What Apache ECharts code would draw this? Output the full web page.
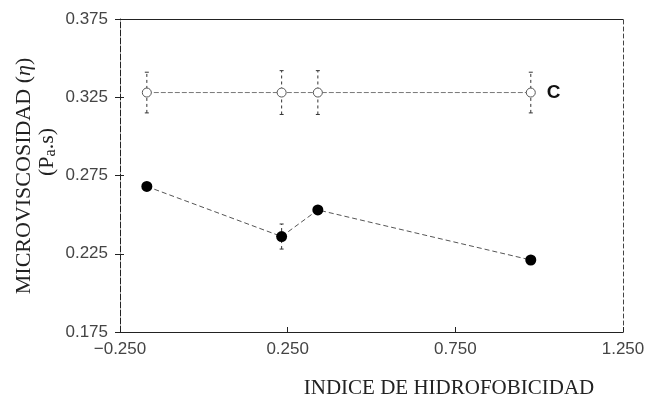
<!DOCTYPE html>
<html>
<head>
<meta charset="utf-8">
<script src="https://cdn.jsdelivr.net/npm/echarts@6/dist/echarts.min.js"></script>
<style>html,body{margin:0;padding:0;background:#fff;}#c{width:651px;height:400px;}</style>
</head>
<body>
<div id="c"></div>
<script>
var xVals = [-0.17, 0.232, 0.34, 0.975];
var cVals = [0.328, 0.328, 0.328, 0.328];
var cErr = [0.013, 0.014, 0.014, 0.013];
var fVals = [0.268, 0.236, 0.253, 0.221];
var fErr = [0, 0.008, 0, 0];
var xTicks = [-0.25, 0.25, 0.75, 1.25];
var yTicks = [0.175, 0.225, 0.275, 0.325, 0.375];
var seriesLabel = 'C';

function pairs(xs, ys) { return xs.map(function (x, i) { return [x, ys[i]]; }); }
function errData(xs, ys, es) {
  var out = [];
  xs.forEach(function (x, i) { if (es[i] > 0) out.push([x, ys[i] - es[i], ys[i] + es[i]]); });
  return out;
}
function errRender(params, api) {
  var x = api.value(0), lo = api.value(1), hi = api.value(2);
  var pLo = api.coord([x, lo]), pHi = api.coord([x, hi]);
  var st = { stroke: '#333', lineWidth: 1, lineDash: [3, 3] };
  return { type: 'group', children: [
    { type: 'line', shape: { x1: pLo[0], y1: pLo[1], x2: pHi[0], y2: pHi[1] }, style: st },
    { type: 'line', shape: { x1: pLo[0] - 2, y1: pLo[1], x2: pLo[0] + 2, y2: pLo[1] }, style: { stroke: '#333', lineWidth: 1 } },
    { type: 'line', shape: { x1: pHi[0] - 2, y1: pHi[1], x2: pHi[0] + 2, y2: pHi[1] }, style: { stroke: '#333', lineWidth: 1 } }
  ]};
}

var chart = echarts.init(document.getElementById('c'));
var labelFont = { fontFamily: 'Liberation Sans', fontSize: 17, color: '#444' };
chart.setOption({
  animation: false,
  grid: { left: 120, right: 28, top: 19, bottom: 68 },
  xAxis: [
    { type: 'value', min: -0.25, max: 1.25, interval: 0.5, position: 'bottom',
      axisLine: { onZero: false, lineStyle: { color: '#222', width: 1 } },
      axisTick: { inside: true, length: 5, lineStyle: { color: '#222' } },
      axisLabel: Object.assign({ margin: 9, formatter: function (v) {
        var s = v.toFixed(3); return s.charAt(0) === '-' ? '\u2212' + s.slice(1) : s; } }, labelFont),
      splitLine: { show: false } },
    { type: 'value', min: -0.25, max: 1.25, interval: 0.5, position: 'top',
      axisLine: { show: true, onZero: false, lineStyle: { color: '#222', width: 1 } },
      axisTick: { show: false }, axisLabel: { show: false }, splitLine: { show: false } }
  ],
  yAxis: [
    { type: 'value', min: 0.175, max: 0.375, interval: 0.05, position: 'left',
      axisLine: { show: true, onZero: false, lineStyle: { color: '#222', width: 1, type: [6, 2] } },
      axisTick: { show: true, inside: false, length: 5, lineStyle: { color: '#222' } },
      axisLabel: Object.assign({ margin: 12, formatter: function (v) { return v.toFixed(3); } }, labelFont),
      splitLine: { show: false } },
    { type: 'value', min: 0.175, max: 0.375, interval: 0.05, position: 'left',
      axisLine: { show: false, onZero: false },
      axisTick: { show: true, inside: true, length: 4, lineStyle: { color: '#222' } },
      axisLabel: { show: false }, splitLine: { show: false } },
    { type: 'value', min: 0.175, max: 0.375, interval: 0.05, position: 'right',
      axisLine: { show: true, onZero: false, lineStyle: { color: '#444', width: 1, type: [4, 3] } },
      axisTick: { show: false }, axisLabel: { show: false }, splitLine: { show: false } }
  ],
  series: [
    { type: 'custom', renderItem: errRender, data: errData(xVals, cVals, cErr), z: 1,
      encode: { x: 0, y: [1, 2] } },
    { type: 'custom', renderItem: errRender, data: errData(xVals, fVals, fErr), z: 1,
      encode: { x: 0, y: [1, 2] } },
    { type: 'line', data: pairs(xVals, cVals), symbol: 'circle', symbolSize: 9,
      itemStyle: { color: '#fff', borderColor: '#555', borderWidth: 1 },
      lineStyle: { color: '#777', width: 1, type: [5, 2] }, z: 3,
      label: { show: true, position: 'right', distance: 11, fontFamily: 'Liberation Sans', fontWeight: 'bold',
        fontSize: 19, color: '#111',
        formatter: function (p) { return p.dataIndex === xVals.length - 1 ? seriesLabel : ''; } } },
    { type: 'line', data: pairs(xVals, fVals), symbol: 'circle', symbolSize: 11,
      itemStyle: { color: '#000' },
      lineStyle: { color: '#555', width: 1, type: [5, 3] }, z: 3 }
  ],
  graphic: [
    { type: 'text', x: 24, y: 176, rotation: Math.PI / 2,
      style: { text: 'MICROVISCOSIDAD ({it|\u03b7})', align: 'center', verticalAlign: 'middle',
        fontFamily: 'Liberation Serif', fontSize: 22, fill: '#222',
        rich: { it: { fontFamily: 'Liberation Serif', fontStyle: 'italic', fontSize: 22, fill: '#222' } } } },
    { type: 'text', x: 47, y: 152, rotation: Math.PI / 2,
      style: { text: '(P{sub|a}.s)', align: 'center', verticalAlign: 'middle',
        fontFamily: 'Liberation Serif', fontSize: 22, fill: '#222',
        rich: { sub: { fontFamily: 'Liberation Serif', fontSize: 16, fill: '#222', padding: [8, 0, 0, 0] } } } },
    { type: 'text', x: 449, y: 388,
      style: { text: 'INDICE DE HIDROFOBICIDAD', align: 'center', verticalAlign: 'middle',
        fontFamily: 'Liberation Serif', fontSize: 21, fill: '#222' } }
  ]
});
</script>
</body>
</html>
